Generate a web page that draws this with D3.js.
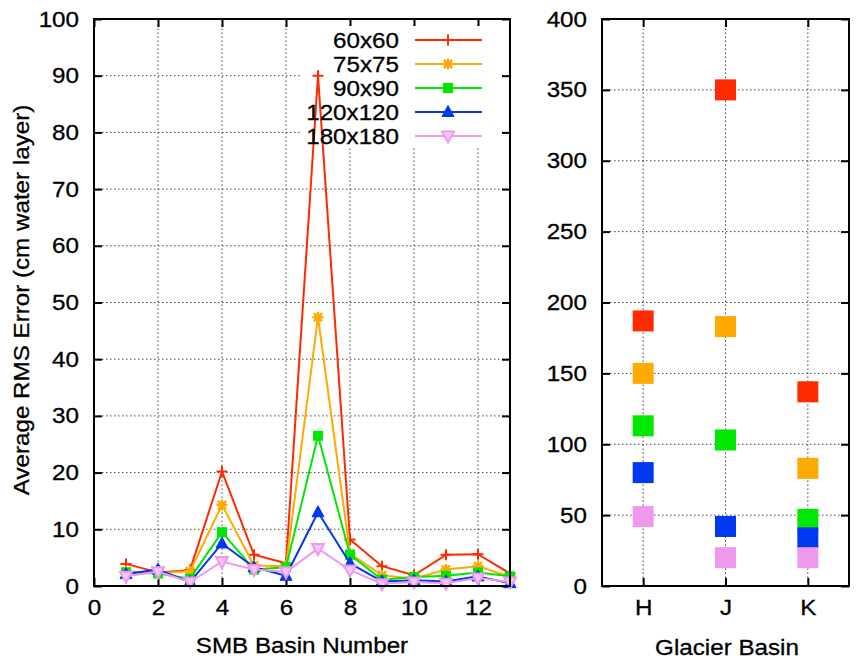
<!DOCTYPE html>
<html>
<head>
<meta charset="utf-8">
<script src="https://cdn.jsdelivr.net/npm/d3@7"></script>
<style>
  html, body { margin: 0; padding: 0; background: #fff; }
  svg { display: block; font-family: "Liberation Sans", Arial, Helvetica, sans-serif; }
  text { stroke: #000; stroke-width: 0.3px; }
</style>
</head>
<body>
<svg id="chart" width="856" height="662"></svg>
<script>
// SMB basins 1..13
const basins = [1, 2, 3, 4, 5, 6, 7, 8, 9, 10, 11, 12, 13];
// Grid resolutions
const resolutions = ["60x60", "75x75", "90x90", "120x120", "180x180"];
// Average RMS error per SMB basin (cm water layer)
const rms60 = [3.9, 2.4, 2.8, 20.2, 5.5, 4.0, 90.0, 8.2, 3.5, 1.9, 5.5, 5.6, 2.2];
const rms75 = [2.6, 2.3, 2.6, 14.3, 3.6, 3.5, 47.4, 5.7, 1.9, 1.3, 2.9, 3.5, 1.6];
const rms90 = [2.4, 2.2, 1.3, 9.5, 2.9, 3.3, 26.5, 5.5, 1.1, 1.6, 1.8, 2.4, 1.7];
const rms120 = [2.1, 2.9, 0.7, 7.5, 3.3, 1.8, 13.0, 4.0, 0.8, 1.0, 0.8, 1.7, 0.5];
const rms180 = [1.7, 2.5, 0.7, 4.3, 2.9, 2.5, 6.6, 2.8, 0.4, 0.7, 0.5, 1.4, 0.7];
// Glacier basins and their RMS error per resolution
const glaciers = ["H", "J", "K"];
const glacier60 = [187, 350, 137];
const glacier75 = [150, 183, 83];
const glacier90 = [113, 103, 47];
const glacier120 = [80, 42, 34];
const glacier180 = [49, 20, 20];
// Tick values
const leftXTicks = [0, 2, 4, 6, 8, 10, 12];
const leftYTicks = [0, 10, 20, 30, 40, 50, 60, 70, 80, 90, 100];
const rightYTicks = [0, 50, 100, 150, 200, 250, 300, 350, 400];

const colors = ["#ff2a00", "#ffaa00", "#00e800", "#0038f0", "#ee99ee"];
const symbols = ["plus", "star", "square", "triUp", "triDown"];
const basinSeries = [rms60, rms75, rms90, rms120, rms180];
const glacierSeries = [glacier60, glacier75, glacier90, glacier120, glacier180];

const svg = d3.select("#chart");
const TICK = 8, FS = 22, SX = 1.1;   // font size and horizontal widening of the type

// ---------- marker drawing ----------
function marker(g, type, color, cx, cy) {
  const s = 5.5;
  if (type === "plus") {
    g.append("path").attr("d", `M${cx - s},${cy}H${cx + s}M${cx},${cy - s}V${cy + s}`)
      .attr("stroke", color).attr("stroke-width", 2).attr("fill", "none");
  } else if (type === "star") {
    const d = s * 0.75;
    g.append("path").attr("d",
      `M${cx - s},${cy}H${cx + s}M${cx},${cy - s}V${cy + s}` +
      `M${cx - d},${cy - d}L${cx + d},${cy + d}M${cx - d},${cy + d}L${cx + d},${cy - d}`)
      .attr("stroke", color).attr("stroke-width", 2.4).attr("fill", "none");
  } else if (type === "square") {
    g.append("rect").attr("x", cx - 5).attr("y", cy - 5).attr("width", 10).attr("height", 10)
      .attr("fill", color);
  } else if (type === "triUp") {
    g.append("path").attr("d", `M${cx},${cy - 6.5}L${cx + 6},${cy + 4.5}L${cx - 6},${cy + 4.5}Z`)
      .attr("fill", color).attr("stroke", color).attr("stroke-width", 1);
  } else if (type === "triDown") {
    g.append("path").attr("d", `M${cx},${cy + 6.5}L${cx + 6},${cy - 4.5}L${cx - 6},${cy - 4.5}Z`)
      .attr("fill", "#f6c6f6").attr("stroke", color).attr("stroke-width", 2);
  }
}

// text widened horizontally around its anchor point
function label(x, y, str, anchor, size, rot) {
  return svg.append("text")
    .attr("transform", `translate(${x},${y})${rot ? ` rotate(${rot})` : ""} scale(${SX},1)`)
    .attr("text-anchor", anchor).attr("font-size", size).attr("fill", "#000").text(str);
}

// ---------- generic frame / grid / axes ----------
function drawAxes(x, y, xTicks, yTicks, xFormat, xGrid, yGrid) {
  const [x0, x1] = x.range();
  const [y0, y1] = y.range();
  const g = svg.append("g");

  g.selectAll(".gx").data(xGrid).join("line")
    .attr("x1", d => x(d)).attr("x2", d => x(d)).attr("y1", y0).attr("y2", y1)
    .attr("stroke", "#444").attr("stroke-width", 1).attr("stroke-dasharray", "1.5,2.5");
  g.selectAll(".gy").data(yGrid).join("line")
    .attr("y1", d => y(d)).attr("y2", d => y(d)).attr("x1", x0).attr("x2", x1)
    .attr("stroke", "#444").attr("stroke-width", 1).attr("stroke-dasharray", "1.5,2.5");

  const style = sel => {
    sel.select(".domain").remove();
    sel.selectAll(".tick line").attr("stroke", "#000").attr("stroke-width", 2);
    sel.selectAll(".tick text").attr("font-size", FS).attr("fill", "#000");
  };
  svg.append("g").attr("transform", `translate(0,${y0})`)
    .call(d3.axisBottom(x).tickValues(xTicks).tickSize(-TICK).tickPadding(13).tickFormat(xFormat))
    .call(style)
    .call(sel => sel.selectAll(".tick text").attr("dy", "0.71em")
      .attr("transform", `scale(${SX},1)`));
  svg.append("g").attr("transform", `translate(0,${y1})`)
    .call(d3.axisTop(x).tickValues(xTicks).tickSize(-TICK).tickFormat(""))
    .call(style);
  svg.append("g").attr("transform", `translate(${x0},0)`)
    .call(d3.axisLeft(y).tickValues(yTicks).tickSize(-TICK).tickPadding(15))
    .call(style)
    .call(sel => sel.selectAll(".tick text").attr("x", -15 / SX)
      .attr("transform", `scale(${SX},1)`));
  svg.append("g").attr("transform", `translate(${x1},0)`)
    .call(d3.axisRight(y).tickValues(yTicks).tickSize(-TICK).tickFormat(""))
    .call(style);
  return g;
}

function frame(x, y) {
  const [x0, x1] = x.range();
  const [y0, y1] = y.range();
  svg.append("rect").attr("x", x0).attr("y", y1).attr("width", x1 - x0).attr("height", y0 - y1)
    .attr("fill", "none").attr("stroke", "#000").attr("stroke-width", 2);
}

// ---------- left panel: SMB basins ----------
const xL = d3.scaleLinear().domain([0, 13]).range([94, 510]);
const yL = d3.scaleLinear().domain([0, 100]).range([586, 19]);
drawAxes(xL, yL, leftXTicks, leftYTicks, d3.format("d"),
  [2, 4, 6, 8, 10, 12], [10, 20, 30, 40, 50, 60, 70, 80, 90]);

// legend background hides the grid behind the key
const legRow = 24;
svg.append("rect").attr("x", 300).attr("y", 26).attr("width", 202).attr("height", 122)
  .attr("fill", "#fff");

const lineGen = d3.line().x((d, i) => xL(basins[i])).y(d => yL(d));
basinSeries.forEach((vals, k) => {
  const g = svg.append("g");
  g.append("path").datum(vals).attr("d", lineGen)
    .attr("fill", "none").attr("stroke", colors[k]).attr("stroke-width", 2)
    .attr("stroke-linejoin", "round");
  vals.forEach((v, i) => marker(g, symbols[k], colors[k], xL(basins[i]), yL(v)));
});

// legend
resolutions.forEach((name, k) => {
  const cy = 40 + k * legRow;
  label(399, cy, name, "end", FS).attr("dy", "0.36em");
  const g = svg.append("g");
  g.append("line").attr("x1", 415).attr("x2", 482).attr("y1", cy).attr("y2", cy)
    .attr("stroke", colors[k]).attr("stroke-width", 2);
  marker(g, symbols[k], colors[k], 448, cy);
});

frame(xL, yL);

label(302, 653, "SMB Basin Number", "middle", FS);
label(29, 300, "Average RMS Error (cm water layer)", "middle", FS, -90);

// ---------- right panel: glacier basins ----------
const xR = d3.scaleLinear().domain([0.5, 3.5]).range([602, 849]);
const yR = d3.scaleLinear().domain([0, 400]).range([586, 19]);
drawAxes(xR, yR, [1, 2, 3], rightYTicks, i => glaciers[i - 1],
  [1, 2, 3], [50, 100, 150, 200, 250, 300, 350]);

const SQ = 21;
glacierSeries.forEach((vals, k) => {
  svg.append("g").selectAll("rect").data(vals).join("rect")
    .attr("x", (d, i) => xR(i + 1) - SQ / 2).attr("y", d => yR(d) - SQ / 2)
    .attr("width", SQ).attr("height", SQ).attr("fill", colors[k]);
});

frame(xR, yR);

label(727, 655, "Glacier Basin", "middle", FS);
</script>
</body>
</html>
